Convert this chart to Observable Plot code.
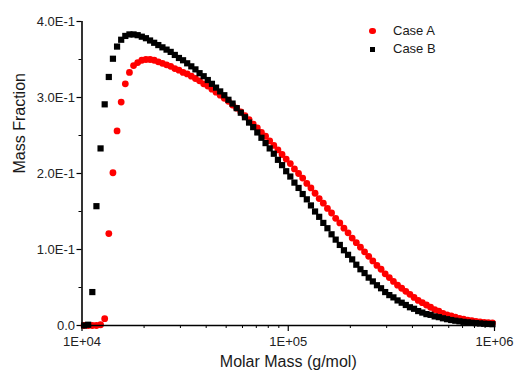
<!DOCTYPE html>
<html>
<head>
<meta charset="utf-8">
<script src="https://cdn.jsdelivr.net/npm/d3@7"></script>
<script src="https://cdn.jsdelivr.net/npm/@observablehq/plot@0.6"></script>
<style>
  html, body { margin: 0; padding: 0; background: #fff; }
  #wrap { position: relative; width: 514px; height: 373px; font-family: "Liberation Sans", Arial, sans-serif; }
  .lg-text { position: absolute; font-size: 13px; line-height: 14px; color: #1a1a1a; white-space: nowrap; }
  .lg-sym { position: absolute; }
</style>
</head>
<body>
<div id="wrap"></div>
<script>
// log10 of molar mass (g/mol) for each measured point
const logMolarMass = [
  4.01,4.03,4.05,4.07,4.09,4.11,4.13,4.15,4.17,4.19,
  4.21,4.23,4.25,4.27,4.29,4.31,4.33,4.35,4.37,4.39,
  4.41,4.43,4.45,4.47,4.49,4.51,4.53,4.55,4.57,4.59,
  4.61,4.63,4.65,4.67,4.69,4.71,4.73,4.75,4.77,4.79,
  4.81,4.83,4.85,4.87,4.89,4.91,4.93,4.95,4.97,4.99,
  5.01,5.03,5.05,5.07,5.09,5.11,5.13,5.15,5.17,5.19,
  5.21,5.23,5.25,5.27,5.29,5.31,5.33,5.35,5.37,5.39,
  5.41,5.43,5.45,5.47,5.49,5.51,5.53,5.55,5.57,5.59,
  5.61,5.63,5.65,5.67,5.69,5.71,5.73,5.75,5.77,5.79,
  5.81,5.83,5.85,5.87,5.89,5.91,5.93,5.95,5.97,5.99
];

const caseA = [
  0.000,0.000,0.000,0.000,0.001,0.009,0.121,0.201,0.256,0.294,
  0.318,0.333,0.342,0.346,0.349,0.350,0.350,0.349,0.347,0.345,
  0.343,0.341,0.338,0.336,0.333,0.331,0.328,0.325,0.322,0.318,
  0.315,0.311,0.307,0.303,0.299,0.295,0.290,0.286,0.281,0.276,
  0.271,0.265,0.260,0.254,0.249,0.243,0.237,0.231,0.225,0.219,
  0.213,0.206,0.200,0.194,0.187,0.181,0.174,0.167,0.161,0.154,
  0.148,0.141,0.135,0.128,0.122,0.115,0.109,0.103,0.097,0.091,
  0.085,0.079,0.074,0.068,0.063,0.058,0.053,0.049,0.045,0.041,
  0.037,0.033,0.030,0.027,0.024,0.021,0.019,0.016,0.014,0.0125,
  0.011,0.0095,0.0083,0.0072,0.0063,0.0055,0.0048,0.0042,0.0037,0.0033
];

const caseB = [
  0.000,0.001,0.044,0.157,0.233,0.291,0.327,0.351,0.367,0.376,
  0.381,0.383,0.383,0.382,0.380,0.378,0.375,0.372,0.369,0.366,
  0.363,0.360,0.356,0.352,0.349,0.345,0.341,0.337,0.332,0.328,
  0.323,0.318,0.313,0.308,0.303,0.297,0.292,0.286,0.280,0.274,
  0.267,0.261,0.254,0.247,0.240,0.233,0.226,0.218,0.211,0.203,
  0.196,0.188,0.181,0.173,0.166,0.158,0.150,0.143,0.135,0.128,
  0.120,0.113,0.106,0.099,0.093,0.087,0.080,0.074,0.069,0.063,
  0.058,0.053,0.049,0.044,0.040,0.037,0.033,0.030,0.027,0.024,
  0.022,0.019,0.017,0.015,0.014,0.012,0.011,0.0095,0.0083,0.0072,
  0.0063,0.0055,0.0048,0.0042,0.0036,0.0031,0.0027,0.0023,0.0020,0.0017
];

const seriesNames = ["Case A", "Case B"];
const xTicks = [1e4, 1e5, 1e6];
const xTickLabels = ["1E+04", "1E+05", "1E+06"];
const xMinorTicks = [2e4,3e4,4e4,5e4,6e4,7e4,8e4,9e4,2e5,3e5,4e5,5e5,6e5,7e5,8e5,9e5];
const yTicks = [0, 0.1, 0.2, 0.3, 0.4];
const yTickLabels = ["0.0", "1.0E-1", "2.0E-1", "3.0E-1", "4.0E-1"];
const yMinorTicks = [0.05, 0.15, 0.25, 0.35];
const xTitle = "Molar Mass (g/mol)";
const yTitle = "Mass Fraction";

const rowsA = logMolarMass.map((l, i) => ({m: Math.pow(10, l), f: caseA[i]}));
const rowsB = logMolarMass.map((l, i) => ({m: Math.pow(10, l), f: caseB[i]}));
const xMap = new Map(xTicks.map((v, i) => [v, xTickLabels[i]]));
const yMap = new Map(yTicks.map((v, i) => [v, yTickLabels[i]]));

const chart = Plot.plot({
  width: 514,
  height: 373,
  marginLeft: 81.5,
  marginRight: 20,
  marginTop: 21,
  marginBottom: 48,
  style: {fontFamily: "'Liberation Sans', Arial, sans-serif", background: "#fff", color: "#000"},
  x: {type: "log", domain: [1e4, 1e6], label: null},
  y: {domain: [0, 0.4], label: null},
  marks: [
    Plot.axisX(xMinorTicks, {tickSize: 3, tickFormat: () => "", strokeWidth: 1, label: null}),
    Plot.axisX(xTicks, {tickSize: 6, tickPadding: 5, tickFormat: d => xMap.get(d), fontSize: 13, fill: "#222", strokeWidth: 1.2, label: null}),
    Plot.axisY(yMinorTicks, {tickSize: 3, tickFormat: () => "", strokeWidth: 1, label: null}),
    Plot.axisY(yTicks, {tickSize: 5, tickPadding: 2, tickFormat: d => yMap.get(d), fontSize: 13, fill: "#222", strokeWidth: 1.2, label: null}),
    Plot.text([xTitle], {frameAnchor: "bottom", dy: 41, text: d => d, fontSize: 16, fill: "#1a1a1a"}),
    Plot.text([yTitle], {frameAnchor: "left", dx: -62.5, rotate: -90, text: d => d, fontSize: 16, fill: "#1a1a1a"}),
    Plot.dot(rowsA, {x: "m", y: "f", r: 3.4, fill: "#ff0000", symbol: "circle"}),
    Plot.dot(rowsB, {x: "m", y: "f", r: 3.5, fill: "#000000", symbol: "square"}),
    Plot.ruleY([0], {stroke: "#000", strokeWidth: 1.6}),
    Plot.ruleX([1e4], {stroke: "#000", strokeWidth: 1.6})
  ]
});

const wrap = document.getElementById("wrap");
wrap.appendChild(chart);

// legend (HTML overlay)
const legendItems = [
  {name: seriesNames[0], color: "#ff0000", shape: "circle", top: 24},
  {name: seriesNames[1], color: "#000000", shape: "square", top: 42.3}
];
legendItems.forEach(it => {
  const sym = document.createElement("div");
  sym.className = "lg-sym";
  if (it.shape === "circle") {
    sym.style.cssText = `left:369.3px;top:${it.top + 3.6}px;width:6.8px;height:6.8px;border-radius:50%;background:${it.color};`;
  } else {
    sym.style.cssText = `left:370.2px;top:${it.top + 4.5}px;width:5px;height:5px;background:${it.color};`;
  }
  wrap.appendChild(sym);
  const t = document.createElement("div");
  t.className = "lg-text";
  t.style.left = "393px";
  t.style.top = it.top + "px";
  t.textContent = it.name;
  wrap.appendChild(t);
});
</script>
</body>
</html>
